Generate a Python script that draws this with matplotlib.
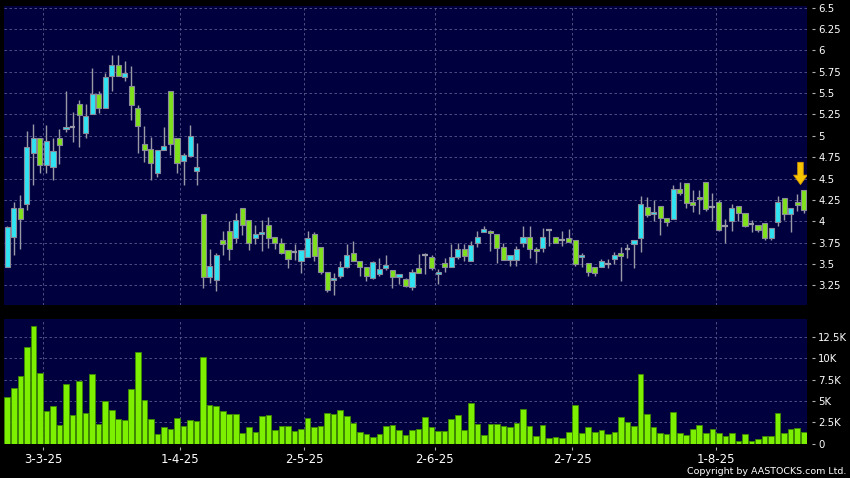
import matplotlib
matplotlib.use('Agg')
import matplotlib.pyplot as plt
from matplotlib.patches import FancyArrow
from matplotlib.ticker import FixedLocator, FuncFormatter

# daily OHLC, 21-2-25 .. 20-8-25 (123 trading days)
opens = [3.47, 3.82, 4.15, 4.20, 4.80, 4.97, 4.66, 4.63, 4.97, 5.08,
         5.10, 5.37, 5.03, 5.25, 5.49, 5.33, 5.70, 5.83, 5.69, 5.58,
         5.33, 4.91, 4.85, 4.57, 4.83, 5.52, 4.97, 4.70, 4.77, 4.59,
         4.08, 3.35, 3.31, 3.78, 3.89, 3.81, 4.15, 4.01, 3.80, 3.85,
         3.96, 3.82, 3.75, 3.66, 3.64, 3.53, 3.58, 3.85, 3.70, 3.41,
         3.31, 3.36, 3.47, 3.63, 3.53, 3.47, 3.34, 3.38, 3.45, 3.43,
         3.35, 3.32, 3.23, 3.45, 3.60, 3.58, 3.38, 3.51, 3.47, 3.58,
         3.68, 3.54, 3.75, 3.88, 3.89, 3.85, 3.70, 3.55, 3.55, 3.75,
         3.82, 3.67, 3.69, 3.90, 3.82, 3.78, 3.80, 3.78, 3.58, 3.51,
         3.47, 3.46, 3.50, 3.56, 3.63, 3.68, 3.73, 3.80, 4.17, 4.09,
         4.18, 4.04, 4.03, 4.38, 4.45, 4.22, 4.29, 4.46, 4.17, 4.23,
         3.94, 4.00, 4.18, 4.10, 3.97, 3.96, 3.98, 3.80, 3.99, 4.27,
         4.09, 4.23, 4.37]
highs = [3.94, 4.23, 4.31, 5.06, 5.14, 4.97, 5.13, 4.97, 5.08, 5.53,
         5.28, 5.42, 5.37, 5.80, 5.52, 5.74, 5.95, 5.95, 5.88, 5.82,
         5.36, 5.11, 4.99, 4.83, 5.10, 5.52, 4.97, 4.80, 5.13, 4.92,
         4.08, 3.67, 3.63, 3.89, 4.00, 4.10, 4.15, 4.01, 3.96, 4.01,
         4.05, 3.82, 3.80, 3.66, 3.73, 3.66, 3.89, 3.88, 3.70, 3.41,
         3.39, 3.53, 3.73, 3.77, 3.53, 3.47, 3.54, 3.57, 3.61, 3.43,
         3.38, 3.34, 3.44, 3.62, 3.63, 3.60, 3.44, 3.57, 3.73, 3.75,
         3.73, 3.77, 3.89, 3.95, 3.90, 3.85, 3.75, 3.60, 3.71, 3.94,
         3.95, 3.70, 3.92, 3.90, 3.82, 3.89, 3.91, 3.78, 3.63, 3.51,
         3.47, 3.56, 3.56, 3.64, 3.70, 3.73, 3.78, 4.30, 4.29, 4.25,
         4.18, 4.04, 4.43, 4.46, 4.45, 4.37, 4.37, 4.46, 4.33, 4.25,
         4.03, 4.20, 4.18, 4.10, 4.01, 3.96, 3.98, 3.92, 4.30, 4.27,
         4.15, 4.32, 4.37]
lows = [3.46, 3.60, 3.68, 4.13, 4.42, 4.57, 4.57, 4.48, 4.67, 5.05,
        4.93, 4.87, 4.98, 5.25, 5.27, 5.33, 5.52, 5.70, 5.64, 5.18,
        4.80, 4.69, 4.48, 4.52, 4.83, 4.78, 4.56, 4.43, 4.77, 4.43,
        3.22, 3.28, 3.18, 3.60, 3.55, 3.75, 3.84, 3.66, 3.73, 3.65,
        3.69, 3.67, 3.62, 3.45, 3.55, 3.40, 3.58, 3.53, 3.38, 3.17,
        3.14, 3.34, 3.45, 3.53, 3.36, 3.30, 3.32, 3.36, 3.43, 3.22,
        3.26, 3.23, 3.20, 3.40, 3.38, 3.43, 3.26, 3.41, 3.47, 3.56,
        3.53, 3.54, 3.70, 3.87, 3.65, 3.51, 3.55, 3.48, 3.48, 3.70,
        3.57, 3.51, 3.64, 3.71, 3.75, 3.71, 3.76, 3.48, 3.47, 3.36,
        3.36, 3.46, 3.45, 3.50, 3.30, 3.57, 3.45, 3.64, 4.05, 4.00,
        3.84, 3.95, 4.03, 4.31, 4.15, 4.11, 4.09, 4.12, 4.00, 3.89,
        3.74, 3.89, 4.00, 3.93, 3.88, 3.88, 3.78, 3.78, 3.94, 4.02,
        3.88, 4.12, 4.10]
closes = [3.93, 4.15, 4.03, 4.87, 4.97, 4.66, 4.94, 4.82, 4.89, 5.10,
          5.10, 5.24, 5.23, 5.49, 5.33, 5.69, 5.83, 5.70, 5.74, 5.36,
          5.11, 4.83, 4.68, 4.83, 4.88, 4.91, 4.68, 4.78, 5.00, 4.63,
          3.35, 3.48, 3.61, 3.73, 3.68, 4.01, 3.96, 3.75, 3.85, 3.87,
          3.80, 3.75, 3.63, 3.56, 3.64, 3.66, 3.80, 3.59, 3.41, 3.20,
          3.34, 3.47, 3.61, 3.53, 3.46, 3.36, 3.52, 3.44, 3.49, 3.35,
          3.38, 3.24, 3.41, 3.40, 3.60, 3.45, 3.41, 3.47, 3.58, 3.68,
          3.59, 3.72, 3.82, 3.91, 3.86, 3.69, 3.55, 3.60, 3.67, 3.82,
          3.67, 3.65, 3.82, 3.90, 3.75, 3.78, 3.76, 3.50, 3.60, 3.41,
          3.40, 3.54, 3.50, 3.60, 3.59, 3.68, 3.78, 4.20, 4.07, 4.11,
          4.04, 3.99, 4.38, 4.33, 4.21, 4.19, 4.26, 4.14, 4.17, 3.90,
          3.94, 4.15, 4.10, 3.95, 3.97, 3.90, 3.80, 3.92, 4.22, 4.09,
          4.15, 4.19, 4.13]
# volume in thousands
volumes = [5.49, 6.50, 7.86, 11.36, 13.77, 8.29, 3.77, 4.40, 2.14, 6.96,
           3.39, 7.32, 3.54, 8.17, 2.33, 5.02, 3.97, 2.92, 2.76, 6.38,
           10.70, 5.14, 2.84, 1.17, 1.98, 1.67, 3.04, 2.10, 2.80, 2.65,
           10.16, 4.51, 4.44, 3.85, 3.42, 3.50, 1.21, 1.91, 1.32, 3.27,
           3.35, 1.60, 2.02, 2.02, 1.44, 1.67, 3.00, 1.91, 2.10, 3.62,
           3.42, 3.93, 3.27, 2.41, 1.40, 1.13, 0.82, 1.13, 2.02, 2.14,
           1.63, 1.05, 1.63, 1.67, 3.08, 1.92, 1.45, 1.45, 2.82, 3.33,
           1.53, 4.71, 2.31, 1.02, 2.31, 2.24, 2.00, 1.92, 2.39, 4.08,
           2.04, 0.86, 2.12, 0.63, 0.78, 0.63, 1.37, 4.55, 1.25, 1.92,
           1.29, 1.53, 1.10, 1.29, 3.10, 2.47, 2.04, 8.16, 3.41, 1.92,
           1.18, 1.10, 3.69, 1.18, 0.94, 1.73, 2.20, 1.18, 1.65, 1.22,
           0.90, 1.22, 0.31, 1.14, 0.35, 0.47, 0.90, 0.90, 3.53, 1.18,
           1.65, 1.84, 1.37]

date_labels = ['3-3-25', '1-4-25', '2-5-25', '2-6-25', '2-7-25', '1-8-25']
date_index = [6, 27, 46, 66, 87, 109]
price_ticks = [3.25, 3.5, 3.75, 4, 4.25, 4.5, 4.75, 5, 5.25, 5.5, 5.75, 6, 6.25, 6.5]
vol_ticks = [0, 2.5, 5, 7.5, 10, 12.5]

UP = '#2fe3f2'
DOWN = '#7fe11c'
EDGE = '#8a8a9a'
NAVY = '#00003f'
GRID = '#5a5a8e'

fig = plt.figure(figsize=(8.5, 4.78), dpi=100, facecolor='black')
ax = fig.add_axes([4 / 850, 1 - 305 / 478, 803 / 850, 299 / 478])
axv = fig.add_axes([4 / 850, 1 - 443.5 / 478, 803 / 850, 124.5 / 478])

n = len(closes)
x = list(range(n))

for a in (ax, axv):
    a.set_facecolor(NAVY)
    for s in a.spines.values():
        s.set_visible(False)
    a.set_xlim(-0.5, n - 0.5)
    a.yaxis.tick_right()
    a.spines['right'].set_position(('outward', 3.5))
    a.tick_params(axis='y', colors='#b0b0b0', labelcolor='white', length=2.5,
                  width=0.8, labelsize=7.3, pad=2)
    a.xaxis.set_major_locator(FixedLocator([i - 0.5 for i in date_index]))
    a.grid(True, color=GRID, linestyle=(0, (3, 3)), linewidth=0.6)
    a.set_axisbelow(True)

# candles
up_x, up_b, up_h = [], [], []
dn_x, dn_b, dn_h = [], [], []
flat_x, flat_y = [], []
for i in x:
    o, c = opens[i], closes[i]
    if c > o:
        up_x.append(i); up_b.append(o); up_h.append(c - o)
    elif c < o:
        dn_x.append(i); dn_b.append(c); dn_h.append(o - c)
    else:
        flat_x.append(i); flat_y.append(o)

ax.vlines(x, lows, highs, color='#9a9aa6', linewidth=1.0, zorder=2)
ax.bar(up_x, up_h, bottom=up_b, width=0.78, color=UP, edgecolor=EDGE, linewidth=0.8, zorder=3)
ax.bar(dn_x, dn_h, bottom=dn_b, width=0.78, color=DOWN, edgecolor=EDGE, linewidth=0.8, zorder=3)
ax.hlines(flat_y, [i - 0.45 for i in flat_x], [i + 0.45 for i in flat_x],
          color='#9a9aa6', linewidth=1.6, zorder=3)

ax.set_ylim(3.02, 6.52)
ax.yaxis.set_major_locator(FixedLocator(price_ticks))
ax.yaxis.set_major_formatter(FuncFormatter(lambda v, p: ('%.2f' % v).rstrip('0').rstrip('.')))
ax.tick_params(axis='x', length=0, labelbottom=False)

# yellow arrow over the last session
arr = FancyArrow(n - 1.5, 4.69, 0, -0.26, width=0.85, head_width=2.1, head_length=0.11,
                 length_includes_head=True, facecolor='#f7c400', edgecolor='#d89a00',
                 linewidth=0.6, zorder=5)
ax.add_patch(arr)

# volume
axv.bar(x, volumes, width=0.86, color='#7cf000', edgecolor='#3d8a00', linewidth=0.6, zorder=3)
axv.set_ylim(0, 14.6)
axv.yaxis.set_major_locator(FixedLocator(vol_ticks))
axv.yaxis.set_major_formatter(FuncFormatter(lambda v, p: '0' if v == 0 else ('%g' % v) + 'K'))
axv.spines['bottom'].set_position(('outward', 2.3))
axv.set_xticklabels(date_labels)
axv.tick_params(axis='x', colors='#b0b0b0', labelcolor='white', length=2, width=0.8,
                labelsize=8.5, pad=2.5)

fig.text(846 / 850, 1 - 471 / 478, 'Copyright by AASTOCKS.com Ltd.', color='white',
         fontsize=6.8, ha='right', va='center')

fig.savefig('out.png', dpi=100, facecolor='black')
